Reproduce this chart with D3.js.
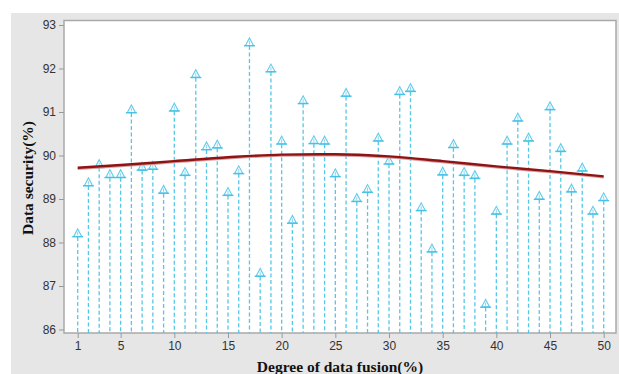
<!DOCTYPE html>
<html>
<head>
<meta charset="utf-8">
<script src="https://cdn.jsdelivr.net/npm/d3@7"></script>
<style>
html,body{margin:0;padding:0;background:#fff;}
svg{display:block;}
</style>
</head>
<body>
<svg id="chart" width="619" height="374"></svg>
<script>
// Data
const fusionDegrees = d3.range(1, 51);
const securityValues = [
  88.22, 89.39, 89.81, 89.58, 89.58, 91.07, 89.75, 89.77, 89.22, 91.11,
  89.63, 91.88, 90.22, 90.26, 89.17, 89.67, 92.61, 87.31, 92.01, 90.35,
  88.53, 91.28, 90.36, 90.35, 89.60, 91.45, 89.03, 89.24, 90.42, 89.89,
  91.49, 91.56, 88.82, 87.87, 89.64, 90.27, 89.63, 89.56, 86.60, 88.74,
  90.35, 90.88, 90.42, 89.08, 91.14, 90.18, 89.25, 89.73, 88.74, 89.05
];
const trendX = [1, 5, 10, 15, 20, 25, 30, 35, 40, 45, 50];
const trendY = [89.72, 89.78, 89.87, 89.96, 90.02, 90.03, 89.98, 89.87, 89.75, 89.64, 89.52];
const xTicks = [1, 5, 10, 15, 20, 25, 30, 35, 40, 45, 50];
const yTicks = [86, 87, 88, 89, 90, 91, 92, 93];

const svg = d3.select("#chart");
// gray panel
svg.append("rect").attr("x", 11).attr("y", 13).attr("width", 608).attr("height", 361).attr("fill", "#e6e6e6");

const frame = {l: 64, t: 20.5, r: 616, b: 333};
svg.append("rect").attr("x", frame.l).attr("y", frame.t)
  .attr("width", frame.r - frame.l).attr("height", frame.b - frame.t)
  .attr("fill", "#fff").attr("stroke", "#a9a9a9").attr("stroke-width", 1.5);

const x = d3.scaleLinear().domain([1, 50]).range([77.7, 603.7]);
const y = d3.scaleLinear().domain([86, 93]).range([329.5, 25]);

// stems
const blue = "#45c2e6";
const pts = fusionDegrees.map((d, i) => ({x: d, y: securityValues[i]}));
svg.append("g").selectAll("line").data(pts).join("line")
  .attr("x1", d => x(d.x)).attr("x2", d => x(d.x))
  .attr("y1", d => y(d.y) + 4).attr("y2", frame.b)
  .attr("stroke", blue).attr("stroke-width", 1.3)
  .attr("stroke-dasharray", "4,2.5").attr("opacity", 0.9);

// markers
const mk = svg.append("g").selectAll("g").data(pts).join("g")
  .attr("transform", d => `translate(${x(d.x)},${y(d.y)})`);
mk.append("path").attr("d", "M-4,3.5 L0,-4 L4,3.5 Z")
  .attr("fill", "none").attr("stroke", blue).attr("stroke-width", 1.1).attr("opacity", 0.85);
mk.append("line").attr("x1", -5.5).attr("x2", 5.5).attr("y1", 3.8).attr("y2", 3.8)
  .attr("stroke", blue).attr("stroke-width", 1.4);
mk.append("line").attr("x1", 0).attr("x2", 0).attr("y1", -1).attr("y2", 2.5)
  .attr("stroke", blue).attr("stroke-width", 0.9).attr("opacity", 0.7);

// trend line
const lineGen = d3.line().x(d => x(d[0])).y(d => y(d[1])).curve(d3.curveMonotoneX);
const trend = trendX.map((d, i) => [d, trendY[i]]);
svg.append("path").datum(trend).attr("d", lineGen)
  .attr("transform", "translate(0,1.2)")
  .attr("fill", "none").attr("stroke", "#d99a9a").attr("stroke-width", 2);
svg.append("path").datum(trend).attr("d", lineGen)
  .attr("fill", "none").attr("stroke", "#8e1414").attr("stroke-width", 2.4);

// axes
const yAxis = d3.axisLeft(y).tickValues(yTicks).tickSize(5).tickPadding(3).tickFormat(d3.format("d"));
const gy = svg.append("g").attr("transform", `translate(${frame.l},0)`).call(yAxis);
gy.select(".domain").remove();
gy.selectAll(".tick line").attr("stroke", "#999");
gy.selectAll(".tick text").attr("font-family", "Liberation Sans, Arial, sans-serif")
  .attr("font-size", 12).attr("fill", "#333");

const xAxis = d3.axisBottom(x).tickValues(xTicks).tickSize(5).tickPadding(3).tickFormat(d3.format("d"));
const gx = svg.append("g").attr("transform", `translate(0,${frame.b})`).call(xAxis);
gx.select(".domain").remove();
gx.selectAll(".tick line").attr("stroke", "#999");
gx.selectAll(".tick text").attr("font-family", "Liberation Sans, Arial, sans-serif")
  .attr("font-size", 12).attr("fill", "#333");

// titles
svg.append("text").attr("x", 340).attr("y", 372).attr("text-anchor", "middle")
  .attr("font-family", "Liberation Serif, Times New Roman, serif").attr("font-weight", "bold")
  .attr("font-size", 15.5).attr("fill", "#111").text("Degree of data fusion(%)");
svg.append("text").attr("transform", "translate(33,178) rotate(-90)").attr("text-anchor", "middle")
  .attr("font-family", "Liberation Serif, Times New Roman, serif").attr("font-weight", "bold")
  .attr("font-size", 15.5).attr("fill", "#111").text("Data security(%)");
</script>
</body>
</html>
